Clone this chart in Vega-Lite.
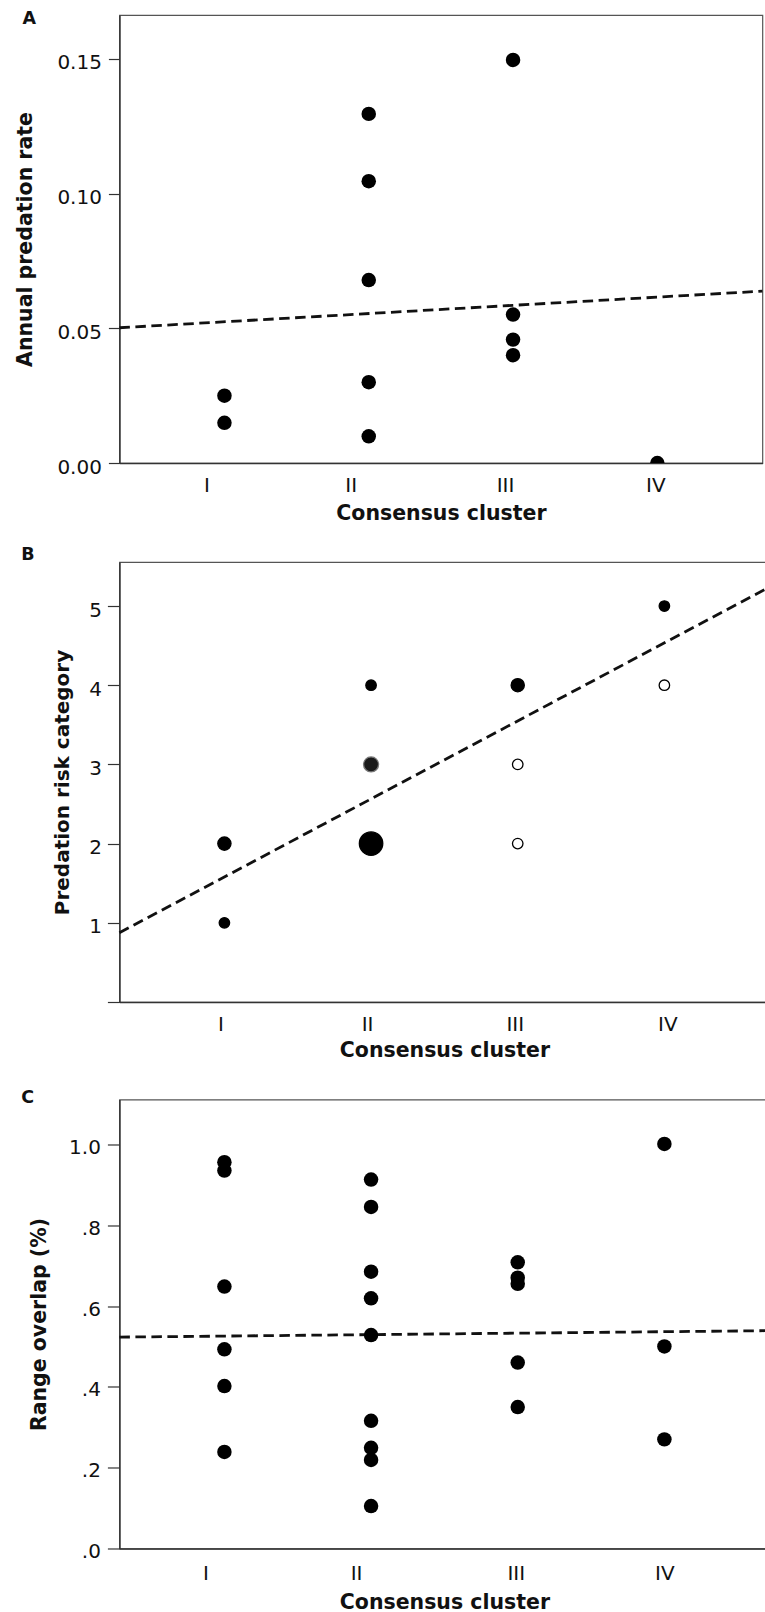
{
  "$schema": "https://vega.github.io/schema/vega-lite/v6.json",
  "background": "white",
  "padding": {"left": 14.4, "top": 9, "right": 0, "bottom": 0},
  "config": {
    "font": "DejaVu Sans",
    "view": {"stroke": "#555", "strokeWidth": 1.2},
    "axis": {
      "grid": false,
      "domainColor": "#333",
      "domainWidth": 1.5,
      "tickColor": "#333",
      "tickWidth": 1.2,
      "labelColor": "#111",
      "titleColor": "#111",
      "labelFont": "DejaVu Sans",
      "titleFont": "DejaVu Sans",
      "labelFontSize": 20,
      "titleFontSize": 20.5,
      "titleFontWeight": "bold",
      "labelFlush": false,
      "labelOverlap": false,
      "labelBound": false
    },
    "title": {
      "font": "DejaVu Sans",
      "fontSize": 17.5,
      "fontWeight": "bold",
      "color": "#111",
      "anchor": "start",
      "frame": "group",
      "align": "left",
      "baseline": "alphabetic"
    }
  },
  "columns": 1,
  "align": "none",
  "spacing": 19,
  "concat": [
    {
      "title": {"text": "A", "dx": -97, "offset": -12.7},
      "width": 643,
      "height": 448,
      "encoding": {
        "x": {
          "field": "x",
          "type": "quantitative",
          "scale": {"domain": [0.272, 4.728], "nice": false, "zero": false},
          "axis": {
            "title": "Consensus cluster",
            "values": [1, 2, 3, 4],
            "labelExpr": "['','I','II','III','IV'][datum.value]",
            "ticks": false,
            "tickSize": 0,
            "labelPadding": 12.3,
            "titlePadding": 7.7,
            "labelOffset": {
              "condition": [
                {"test": "datum.value == 1", "value": -18},
                {"test": "datum.value == 2", "value": -18},
                {"test": "datum.value == 3", "value": -8}
              ],
              "value": -2
            }
          }
        },
        "y": {
          "field": "y",
          "type": "quantitative",
          "scale": {"domain": [0, 0.1663], "nice": false},
          "axis": {
            "title": "Annual predation rate",
            "values": [0, 0.05, 0.1, 0.15],
            "format": ".2f",
            "tickSize": 11,
            "labelPadding": 7,
            "labelOffset": 4,
            "titleX": -83.6
          }
        }
      },
      "layer": [
        {
          "data": {"values": [{"x": 0.272, "y": 0.0502}, {"x": 4.728, "y": 0.0638}]},
          "mark": {"type": "line", "strokeDash": [10.5, 5.5], "strokeWidth": 2.8, "color": "#111"}
        },
        {
          "data": {
            "values": [
              {"x": 1, "y": 0.025},
              {"x": 1, "y": 0.0149},
              {"x": 2, "y": 0.1296},
              {"x": 2, "y": 0.1046},
              {"x": 2, "y": 0.0679},
              {"x": 2, "y": 0.03},
              {"x": 2, "y": 0.0099},
              {"x": 3, "y": 0.1496},
              {"x": 3, "y": 0.0551},
              {"x": 3, "y": 0.0458},
              {"x": 3, "y": 0.04},
              {"x": 4, "y": 0.0}
            ]
          },
          "mark": {"type": "circle", "size": 210, "color": "#000", "opacity": 1, "clip": true}
        }
      ]
    },
    {
      "columns": 1,
      "align": "none",
      "spacing": 26.5,
      "concat": [
        {
          "title": {"text": "\u2002B", "dx": -98.2, "offset": -1},
          "width": 650,
          "height": 440,
          "encoding": {
            "x": {
              "field": "x",
              "type": "quantitative",
              "scale": {"domain": [0.284, 4.716], "nice": false, "zero": false},
              "axis": {
                "title": "Consensus cluster",
                "values": [1, 2, 3, 4],
                "labelExpr": "['','I','II','III','IV'][datum.value]",
                "ticks": false,
                "tickSize": 0,
                "labelPadding": 12.9,
                "titlePadding": 5.4,
                "labelOffset": {
                  "condition": [
                    {"test": "datum.value == 1", "value": -4},
                    {"test": "datum.value == 2", "value": -4},
                    {"test": "datum.value == 3", "value": -3}
                  ],
                  "value": 3
                }
              }
            },
            "y": {
              "field": "y",
              "type": "quantitative",
              "scale": {"domain": [0, 5.556], "nice": false},
              "axis": {
                "title": "Predation risk category",
                "titleFontSize": 20,
                "values": [0, 1, 2, 3, 4, 5],
                "labelExpr": "datum.value == 0 ? '' : datum.label",
                "tickSize": 12,
                "labelPadding": 6,
                "labelOffset": 4,
                "titleX": -46.6
              }
            }
          },
          "layer": [
            {
              "data": {"values": [{"x": 0.284, "y": 0.874}, {"x": 4.716, "y": 5.24}]},
              "mark": {"type": "line", "strokeDash": [10.5, 5.5], "strokeWidth": 2.8, "color": "#111"}
            },
            {
              "data": {
                "values": [
                  {"x": 1, "y": 1, "n": 1, "style": "filled"},
                  {"x": 1, "y": 2, "n": 2, "style": "filled"},
                  {"x": 2, "y": 4, "n": 1, "style": "filled"},
                  {"x": 2, "y": 3, "n": 3, "style": "mixed"},
                  {"x": 2, "y": 2, "n": 6, "style": "filled"},
                  {"x": 3, "y": 4, "n": 2, "style": "filled"},
                  {"x": 3, "y": 3, "n": 1, "style": "open"},
                  {"x": 3, "y": 2, "n": 1, "style": "open"},
                  {"x": 4, "y": 5, "n": 1, "style": "filled"},
                  {"x": 4, "y": 4, "n": 1, "style": "open"}
                ]
              },
              "mark": {"type": "circle", "opacity": 1, "strokeWidth": 1.3},
              "encoding": {
                "size": {
                  "field": "n",
                  "type": "quantitative",
                  "scale": {"domain": [1, 2, 3, 6], "range": [110, 175, 225, 550]},
                  "legend": null
                },
                "fill": {
                  "field": "style",
                  "type": "nominal",
                  "scale": {"domain": ["filled", "open", "mixed"], "range": ["#000000", "#ffffff", "#1a1a1a"]},
                  "legend": null
                },
                "stroke": {
                  "field": "style",
                  "type": "nominal",
                  "scale": {"domain": ["filled", "open", "mixed"], "range": ["#000000", "#000000", "#777777"]},
                  "legend": null
                }
              }
            }
          ]
        },
        {
          "title": {"text": "\u2002C", "dx": -98.2, "offset": -7.3},
          "width": 650,
          "height": 449,
          "encoding": {
            "x": {
              "field": "x",
              "type": "quantitative",
              "scale": {"domain": [0.284, 4.716], "nice": false, "zero": false},
              "axis": {
                "title": "Consensus cluster",
                "values": [1, 2, 3, 4],
                "labelExpr": "['','I','II','III','IV'][datum.value]",
                "ticks": false,
                "tickSize": 0,
                "labelPadding": 15.3,
                "titlePadding": 8.5,
                "labelOffset": {
                  "condition": [
                    {"test": "datum.value == 1", "value": -19},
                    {"test": "datum.value == 2", "value": -15},
                    {"test": "datum.value == 3", "value": -2}
                  ],
                  "value": 0
                }
              }
            },
            "y": {
              "field": "y",
              "type": "quantitative",
              "scale": {"domain": [0, 1.111], "nice": false},
              "axis": {
                "title": "Range overlap (%)",
                "values": [0, 0.2, 0.4, 0.6, 0.8, 1.0],
                "labelExpr": "replace(format(datum.value, '.1f'), '0.', '.')",
                "tickSize": 12,
                "labelPadding": 7,
                "labelOffset": 3,
                "titleX": -69.6
              }
            }
          },
          "layer": [
            {
              "data": {"values": [{"x": 0.284, "y": 0.523}, {"x": 4.716, "y": 0.539}]},
              "mark": {"type": "line", "strokeDash": [10.5, 5.5], "strokeWidth": 2.8, "color": "#111"}
            },
            {
              "data": {
                "values": [
                  {"x": 1, "y": 0.956},
                  {"x": 1, "y": 0.935},
                  {"x": 1, "y": 0.648},
                  {"x": 1, "y": 0.493},
                  {"x": 1, "y": 0.402},
                  {"x": 1, "y": 0.239},
                  {"x": 2, "y": 0.913},
                  {"x": 2, "y": 0.845},
                  {"x": 2, "y": 0.685},
                  {"x": 2, "y": 0.619},
                  {"x": 2, "y": 0.528},
                  {"x": 2, "y": 0.316},
                  {"x": 2, "y": 0.249},
                  {"x": 2, "y": 0.219},
                  {"x": 2, "y": 0.105},
                  {"x": 3, "y": 0.708},
                  {"x": 3, "y": 0.67},
                  {"x": 3, "y": 0.655},
                  {"x": 3, "y": 0.46},
                  {"x": 3, "y": 0.35},
                  {"x": 4, "y": 1.001},
                  {"x": 4, "y": 0.5},
                  {"x": 4, "y": 0.27}
                ]
              },
              "mark": {"type": "circle", "size": 210, "color": "#000", "opacity": 1}
            }
          ]
        }
      ]
    }
  ]
}
